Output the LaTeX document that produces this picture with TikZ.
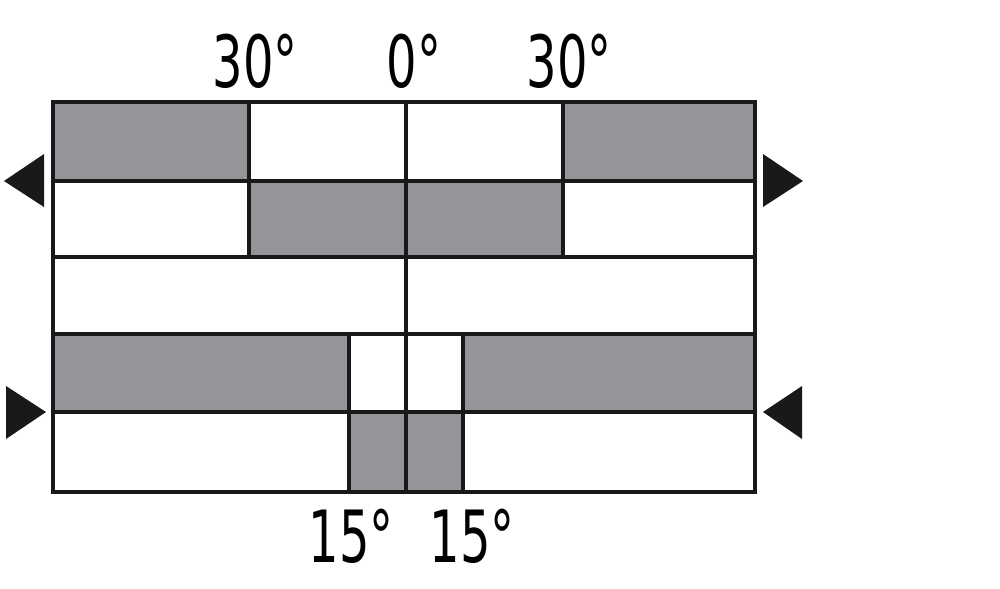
\documentclass[tikz,border=0pt]{standalone}
\usepackage{graphicx}
\usepackage{fontspec}
\setsansfont{DejaVu Sans Condensed}
\definecolor{cellgray}{RGB}{147,149,152}
\newcommand{\narrow}[1]{\scalebox{0.74}[1]{#1}}

\begin{document}
\begin{tikzpicture}[x=0.02cm,y=-0.02cm,
  grid line/.style={line width=2pt,draw=black!90},
  frame line/.style={line width=2.4pt,draw=black!90},
  shaded cell/.style={fill=cellgray},
  marker/.style={fill=black!90},
  angle label/.style={font=\sffamily\fontsize{41}{41}\selectfont,
  inner sep=0pt,anchor=base}]

  \useasboundingbox (0,0) rectangle (1000,588);

  %grey cells, row by row
  \fill[shaded cell] (53,102) rectangle (249,181);
  \fill[shaded cell] (563,102) rectangle (755,181);
  \fill[shaded cell] (249,181) rectangle (563,257);
  \fill[shaded cell] (53,334) rectangle (349,412);
  \fill[shaded cell] (463,334) rectangle (755,412);
  \fill[shaded cell] (349,412) rectangle (463,492);

  %row and column lines
  \foreach \y in {181,257,334,412}
    \draw[grid line] (53,\y) -- (755,\y);
  \draw[grid line] (406,102) -- (406,492);
  \foreach \x in {249,563}
    \draw[grid line] (\x,102) -- (\x,257);
  \foreach \x in {349,463}
    \draw[grid line] (\x,334) -- (\x,492);
  \draw[frame line] (53,102) rectangle (755,492);

  %direction markers
  \fill[marker] (4,181) -- (44,154) -- (44,207) -- cycle;
  \fill[marker] (803,181) -- (763,154) -- (763,207) -- cycle;
  \fill[marker] (46,412) -- (6,386) -- (6,439) -- cycle;
  \fill[marker] (763,412) -- (802,386) -- (802,439) -- cycle;

  %angle labels
  \node[angle label] (L30) at (255,88) {\narrow{30°}};
  \node[angle label] (C0) at (414,88) {\narrow{0°}};
  \node[angle label] (R30) at (569,88) {\narrow{30°}};
  \node[angle label] (L15) at (351,562) {\narrow{15°}};
  \node[angle label] (R15) at (472,562) {\narrow{15°}};

\end{tikzpicture}
\end{document}
